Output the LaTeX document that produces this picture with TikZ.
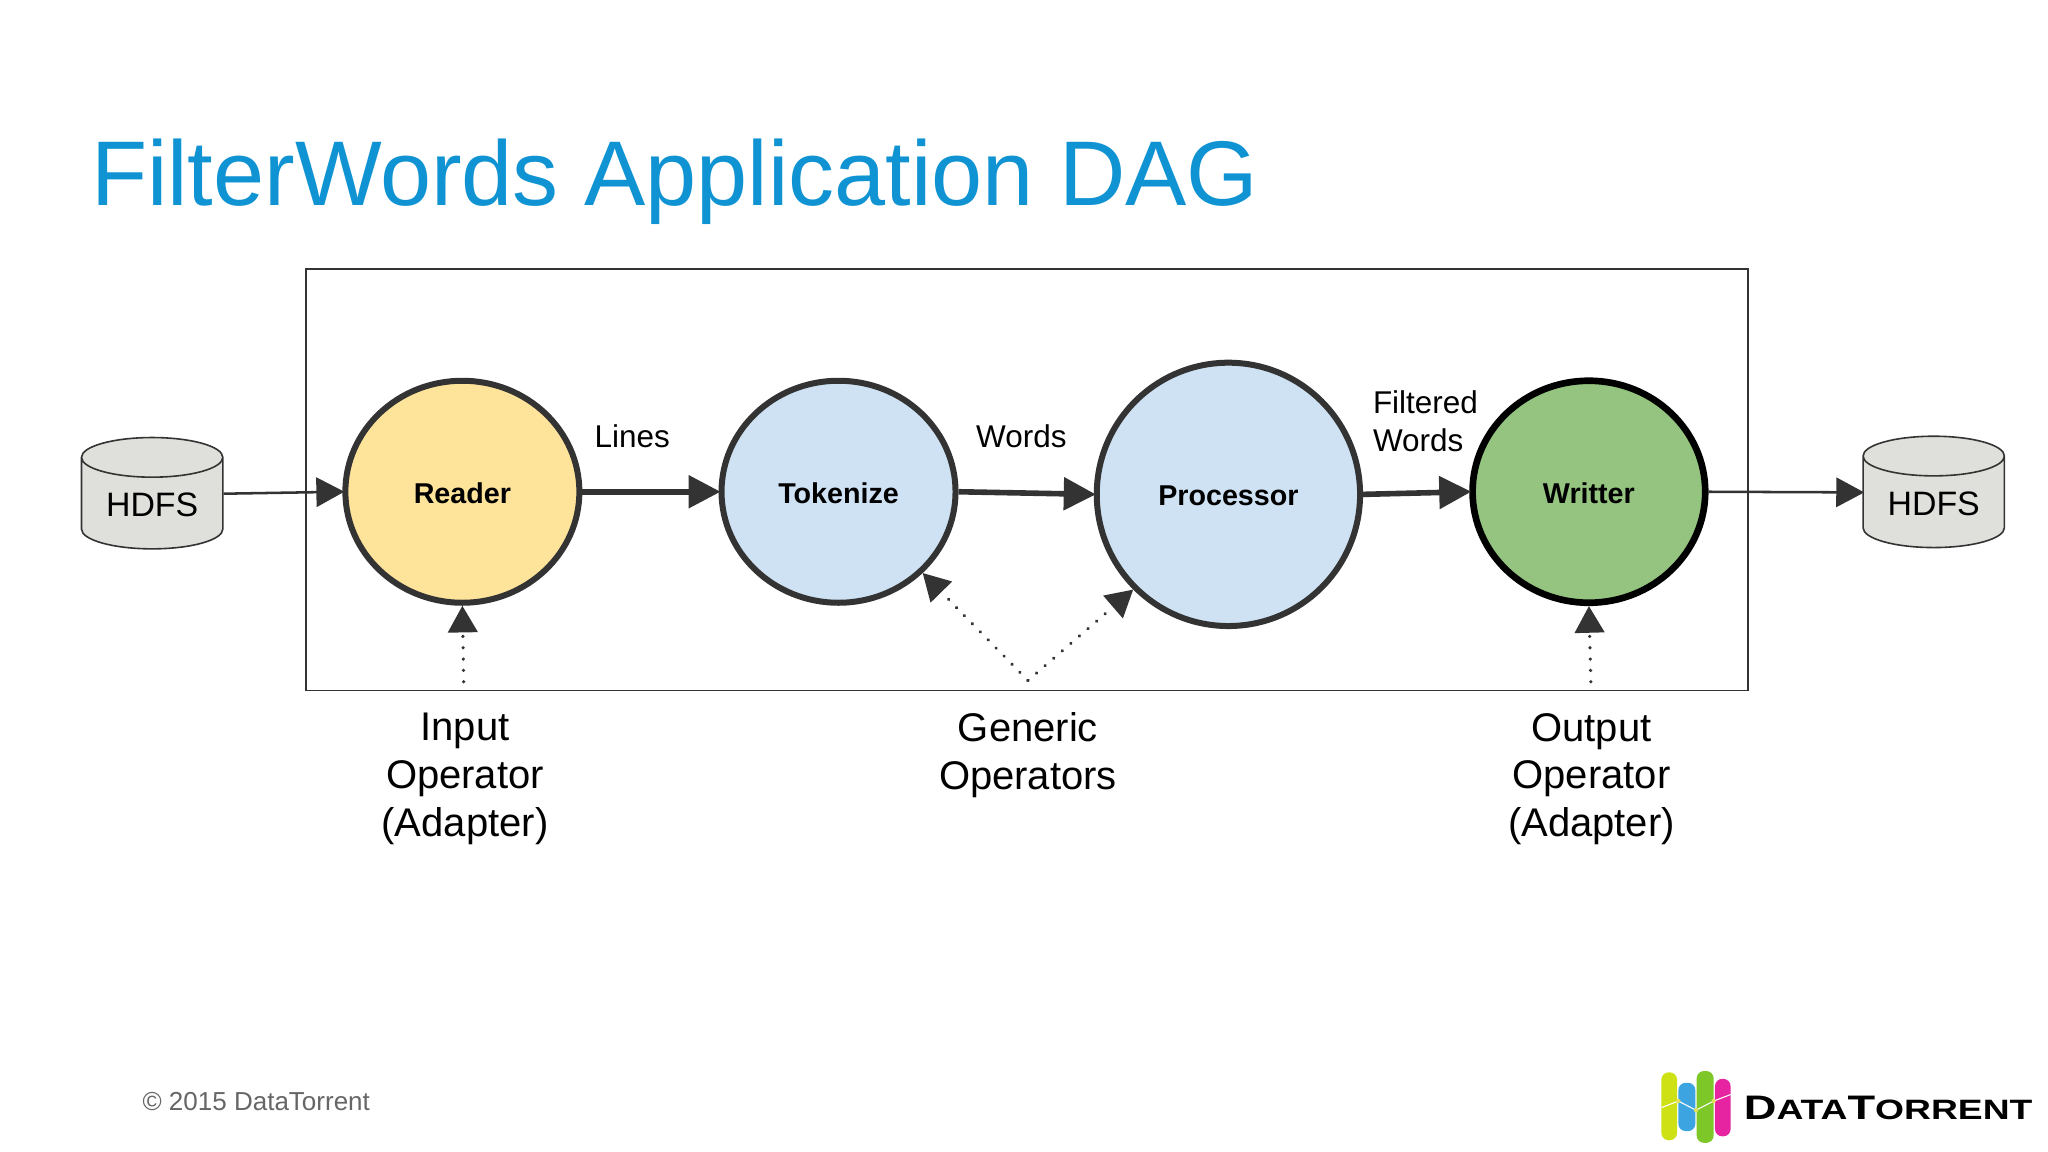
\documentclass[tikz,border=0pt]{standalone}
\usepackage{fontspec}
\setmainfont{Liberation Sans}
\usetikzlibrary{shapes.geometric,arrows.meta}
\definecolor{ink}{HTML}{333333}
\definecolor{titleblue}{HTML}{0F93D2}
\definecolor{readerfill}{HTML}{FEE49B}
\definecolor{opfill}{HTML}{CFE2F3}
\definecolor{writerfill}{HTML}{94C47F}
\definecolor{cylfill}{HTML}{DFDFDB}
\newcommand{\fs}[1]{\fontsize{#1}{#1}\selectfont}
\newcommand{\cyltext}[1]{\smash{\raisebox{-9.6pt}{#1}}}
\tikzset{
  x=0.97959pt,y=-0.97959pt,
  opnode/.style={ellipse,draw=ink,line width=4.5pt,inner sep=0pt,font=\bfseries\fs{21.5},text height=17.2pt,text depth=0pt},
  store/.style={cylinder,shape border rotate=90,draw=ink,line width=1.2pt,fill=cylfill,aspect=0.43,
    minimum width=106pt,minimum height=83.5pt,inner sep=0pt,font=\fs{25.4}},
  flowlabel/.style={inner sep=0pt,font=\fs{23.6},align=left},
  caption/.style={inner sep=0pt,font=\fontsize{30}{35.8}\selectfont,align=center},
  thickflow/.style={draw=ink,line width=4.2pt,shorten >=-1.5pt,-{Triangle[length=24pt,width=24pt]}},
  thinflow/.style={draw=ink,line width=1.9pt,shorten >=-1.5pt,-{Triangle[length=21pt,width=22pt]}},
  hint/.style={draw=ink,line width=2.6pt,line cap=round,dash pattern=on 0.1pt off 8.4pt,
    -{Triangle[length=20pt,width=22pt]}}
}
\begin{document}
\begin{tikzpicture}
\useasboundingbox (0,0) rectangle (1568,882);
\fill[white] (0,0) rectangle (1568,882);
\node[anchor=base west,inner sep=0pt,text=titleblue,font=\fs{68.9}] (title) at (69.5,157) {FilterWords Application DAG};
\node[draw=ink,line width=1.4pt,minimum width=1081.5pt,minimum height=316.4pt,inner sep=0pt,anchor=north west] (frame) at (233.5,205) {};
\node[store] (hdfsL) at (116.5,385.5) {\cyltext{HDFS}};
\node[store] (hdfsR) at (1480.5,384.5) {\cyltext{HDFS}};
\node[opnode,fill=readerfill,minimum width=175.5pt,minimum height=166.5pt] (reader) at (354,376.5) {Reader};
\node[opnode,fill=opfill,minimum width=175.5pt,minimum height=166.5pt] (tok) at (642,376.5) {Tokenize};
\node[opnode,fill=opfill,minimum width=197.5pt,minimum height=197.5pt] (proc) at (940.5,378.5) {Processor};
\node[opnode,draw=black,line width=5pt,fill=writerfill,minimum width=174.5pt,minimum height=166.5pt] (writer) at (1216.5,376.5) {Writter};
\draw[thinflow] ([yshift=7.35pt]hdfsL.east) -- (reader.west);
\draw[thickflow] (reader.east) -- (tok.west);
\draw[thickflow] (tok.east) -- (proc.west);
\draw[thickflow] (proc.east) -- (writer.west);
\draw[thinflow] (writer.east) -- ([yshift=7.35pt]hdfsR.west);
\coordinate (inHint) at (355,522);
\coordinate (genHint) at (787,521);
\coordinate (outHint) at (1218,522);
\draw[hint] (inHint) -- (reader.south);
\draw[hint] (genHint) -- (tok.316);
\draw[hint] (genHint) -- (proc.225);
\draw[hint] (outHint) -- (writer.south);
\node[flowlabel] (lines) at (484,334) {Lines};
\node[flowlabel] (words) at (782,334) {Words};
\node[flowlabel,anchor=west] (filt) at (1051,322.5) {Filtered\\[5pt]Words};
\node[caption] (inCap) at (356,596.5) {Input\\Operator\\(Adapter)};
\node[caption] (genCap) at (787,578) {Generic\\Operators};
\node[caption] (outCap) at (1218.5,596.5) {Output\\Operator\\(Adapter)};
\node[anchor=base west,inner sep=0pt,text=black!60,font=\fs{19.5}] (copy) at (109,850) {© 2015 DataTorrent};
% logo
\begin{scope}[line width=0pt]
\fill[rounded corners=5.5pt,fill={rgb,255:red,205;green,225;blue,20}] (1272,821) rectangle (1284,873);
\fill[rounded corners=5.5pt,fill={rgb,255:red,60;green,165;blue,225}] (1285,829) rectangle (1298,866);
\fill[rounded corners=5.5pt,fill={rgb,255:red,125;green,200;blue,40}] (1299,820) rectangle (1312,875);
\fill[rounded corners=5.5pt,fill={rgb,255:red,230;green,35;blue,160}] (1313,826) rectangle (1325,870);
\draw[white,line width=0.8pt] (1272,848) -- (1285,843) -- (1298.5,850) -- (1312,843) -- (1325,838);
\foreach \px/\py in {1285/843,1298.5/850,1312/843}
  \fill[fill={rgb,255:red,225;green,225;blue,90}] (\px,\py) circle (1.6pt);
\end{scope}
\node[anchor=base west,inner sep=0pt,font=\bfseries\fs{25.5}] (logotext) at (1335,857)
  {\scalebox{1.33}[1]{D\fs{21}ATA\fs{25.5}T\fs{21}ORRENT}};
\end{tikzpicture}
\end{document}
